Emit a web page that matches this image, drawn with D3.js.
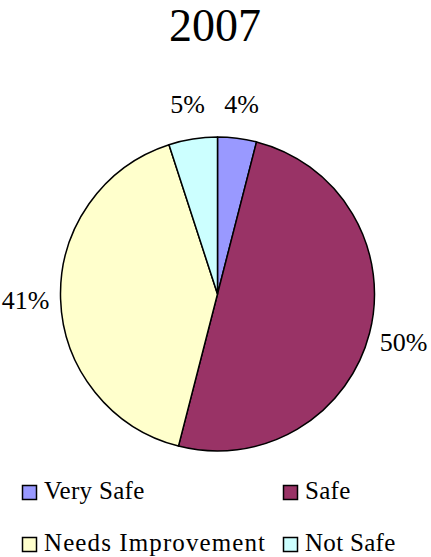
<!DOCTYPE html>
<html>
<head>
<meta charset="utf-8">
<script src="https://cdn.jsdelivr.net/npm/d3@7"></script>
<style>
svg text { font-family: "Liberation Serif", "Times New Roman", Tinos, serif; }
</style>
</head>
<body style="margin:0;background:#fff">
<svg id="chart" width="431" height="557" style="display:block"></svg>
<script>
const title = "2007";
const categories = ["Very Safe", "Safe", "Needs Improvement", "Not Safe"];
const values = [4, 50, 41, 5];
const colors = ["#9999FF", "#993366", "#FFFFCC", "#CCFFFF"];

const FONT = '"Liberation Serif", "Times New Roman", Tinos, serif';
const svg = d3.select("#chart");
const cx = 217.5, cy = 294, R = 157;

svg.append("text")
  .attr("x", 215).attr("y", 41)
  .attr("text-anchor", "middle")
  .style("font-family", FONT)
  .style("font-size", "46px")
  .text(title);

const pie = d3.pie().sort(null).value(d => d)(values);
const arc = d3.arc().innerRadius(0).outerRadius(R);
const labelArc = d3.arc().innerRadius(192).outerRadius(192);

const g = svg.append("g").attr("transform", `translate(${cx},${cy})`);
g.selectAll("path").data(pie).join("path")
  .attr("d", arc)
  .attr("fill", (d, i) => colors[i])
  .attr("stroke", "#000")
  .attr("stroke-width", 1.5)
  .attr("stroke-linejoin", "round");

g.selectAll("text.lbl").data(pie).join("text")
  .attr("class", "lbl")
  .attr("transform", d => `translate(${labelArc.centroid(d)})`)
  .attr("text-anchor", "middle")
  .attr("dy", "0.35em")
  .style("font-family", FONT)
  .style("font-size", "26px")
  .text(d => d.data + "%");

// legend
const legX = [22, 283];
const legY = [485, 537];
const leg = svg.append("g");
categories.forEach((c, i) => {
  const x = legX[i % 2], y = legY[Math.floor(i / 2)];
  leg.append("rect")
    .attr("x", x + 0.5).attr("y", y + 0.5)
    .attr("width", 14).attr("height", 14)
    .attr("fill", colors[i])
    .attr("stroke", "#000").attr("stroke-width", 1.5);
  leg.append("text")
    .attr("x", x + 22).attr("y", y + 14)
    .style("font-family", FONT)
    .style("font-size", "25px")
    .style("letter-spacing", i === 2 ? "1.1px" : "0.3px")
    .text(c);
});
</script>
</body>
</html>
